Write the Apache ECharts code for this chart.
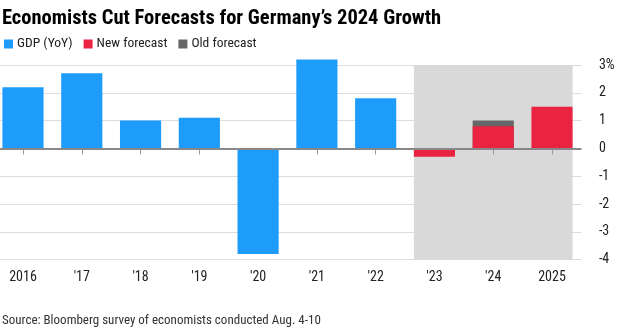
<!DOCTYPE html>
<html>
<head>
<meta charset="utf-8">
<script src="https://cdn.jsdelivr.net/npm/echarts@6/dist/echarts.min.js"></script>
<style>
html,body{margin:0;padding:0;background:#fff;}
#c{width:632px;height:336px;}
</style>
</head>
<body>
<div id="c"></div>
<script>
var categories = ['2016', "'17", "'18", "'19", "'20", "'21", "'22", "'23", "'24", '2025'];
var gdpValues = [2.2, 2.7, 1.0, 1.1, -3.8, 3.2, 1.8, null, null, null];
var newForecast = [null, null, null, null, null, null, null, -0.3, 0.8, 1.5];
var oldForecast = [null, null, null, null, null, null, null, null, 1.0, null];
var forecastSpan = [[7, 9]];
var yTicks = [-4, -3, -2, -1, 0, 1, 2, 3];

var FONT = '"Roboto Condensed", "Liberation Sans", Arial, sans-serif';
var chart = echarts.init(document.getElementById('c'));
chart.setOption({
  animation: false,
  backgroundColor: '#fff',
  title: {
    text: 'Economists Cut Forecasts for Germany\u2019s 2024 Growth',
    left: 2, top: 8, padding: 0,
    textStyle: {fontFamily: FONT, fontWeight: 'bold', fontSize: 20.5, color: '#000'}
  },
  legend: {
    left: 4, top: 37, padding: 0,
    itemWidth: 9, itemHeight: 9, itemGap: 11,
    icon: 'rect',
    data: ['GDP (YoY)', 'New forecast', 'Old forecast'],
    textStyle: {fontFamily: FONT, fontSize: 13.5, color: '#222', padding: [0,0,0,-1]}
  },
  graphic: [{
    type: 'text', left: 2, top: 314,
    style: {text: 'Source: Bloomberg survey of economists conducted Aug. 4-10', font: '13px ' + FONT, fill: '#333'}
  }],
  grid: {left: -6.4, right: 50.6, top: 65, height: 194.6, containLabel: false, outerBoundsMode: 'none'},
  xAxis: {
    type: 'category', data: categories,
    axisLine: {show: false},
    axisTick: {show: true, alignWithLabel: true, length: 6, lineStyle: {color: '#999'}},
    axisLabel: {fontFamily: FONT, fontSize: 14, color: '#222', margin: 11},
    splitLine: {show: false}
  },
  yAxis: {
    type: 'value', position: 'right', min: -4, max: 3, interval: 1,
    axisLine: {show: false}, axisTick: {show: false},
    axisLabel: {fontFamily: FONT, fontSize: 14, color: '#222', margin: 17.5,
      formatter: function (v) { return v === yTicks[yTicks.length - 1] ? v + '%' : String(v); }},
    splitLine: {lineStyle: {color: '#ddd', width: 1}}
  },
  series: [
    {
      type: 'custom', name: 'forecast-area', silent: true, z: 0,
      data: forecastSpan,
      renderItem: function (params, api) {
        var a = api.coord([api.value(0), yTicks[yTicks.length - 1]]);
        var b = api.coord([api.value(1), yTicks[0]]);
        var bw = api.size([1, 0])[0] * 0.7;
        return {type: 'rect', shape: {x: a[0] - bw / 2, y: a[1], width: b[0] - a[0] + bw, height: b[1] - a[1]},
                style: {fill: '#d9d9d9'}};
      }
    },
    {
      name: 'GDP (YoY)', type: 'bar', data: gdpValues, barWidth: '70%', barGap: '-100%', clip: false,
      itemStyle: {color: '#1e9cfb'}, z: 2,
      markLine: {silent: true, symbol: 'none', label: {show: false}, lineStyle: {color: '#888', width: 2, type: 'solid'},
                 data: [{yAxis: 0}], z: 5}
    },
    {
      name: 'Old forecast', type: 'bar', data: oldForecast, barWidth: '70%', barGap: '-100%',
      itemStyle: {color: '#666666'}, z: 2
    },
    {
      name: 'New forecast', type: 'bar', data: newForecast, barWidth: '70%', barGap: '-100%',
      itemStyle: {color: '#ea2340'}, z: 3
    }
  ]
});
</script>
</body>
</html>
